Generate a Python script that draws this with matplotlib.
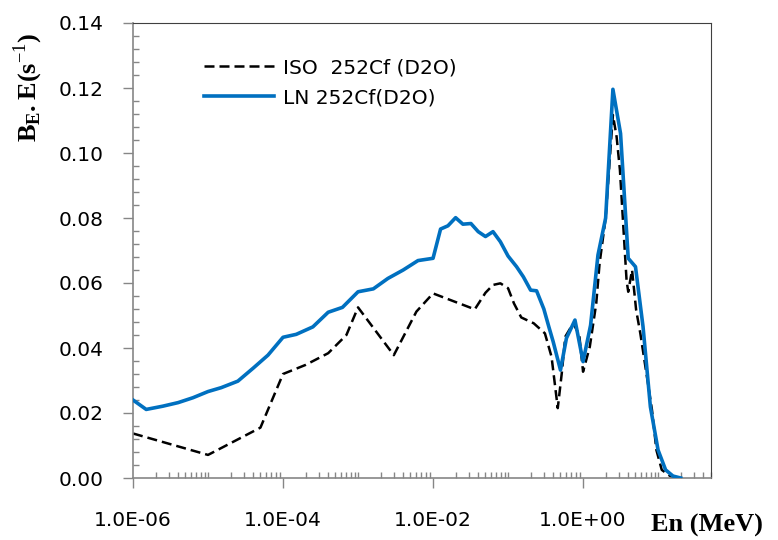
import matplotlib
matplotlib.use("Agg")
import matplotlib.pyplot as plt
import matplotlib.ticker as mticker

# ---------------------------------------------------------------------------
# Data
# ---------------------------------------------------------------------------
energy_iso = [1.0e-6, 1.0e-5, 5.0e-5, 1.0e-4, 2.0e-4, 4.0e-4, 7.0e-4, 1.0e-3,
              3.0e-3, 6.0e-3, 1.0e-2, 3.6e-2, 5.0e-2, 6.3e-2, 7.9e-2, 0.10,
              0.12, 0.15, 0.22, 0.31, 0.38, 0.46, 0.52, 0.58, 0.74, 0.89,
              1.0, 1.23, 1.5, 1.66, 2.0, 2.5, 2.8, 3.1, 3.8, 4.0, 4.5, 5.1,
              5.8, 8.3, 9.5, 11.2, 15.8]
flux_iso = [0.0137, 0.0071, 0.0155, 0.0320, 0.0348, 0.0384, 0.0440, 0.0525,
            0.0378, 0.0512, 0.0568, 0.0519, 0.0570, 0.0594, 0.0599, 0.0584,
            0.0537, 0.0494, 0.0476, 0.0445, 0.0373, 0.0215, 0.0322, 0.0435,
            0.0476, 0.0440, 0.0327, 0.0404, 0.0538, 0.0660, 0.0800, 0.1117,
            0.1050, 0.0948, 0.0609, 0.0573, 0.0640, 0.0517, 0.0445, 0.0209,
            0.0086, 0.0025, 0.0]

energy_ln = [1.0e-6, 1.5e-6, 2.5e-6, 4.0e-6, 6.3e-6, 1.0e-5, 1.5e-5, 2.5e-5,
             4.0e-5, 6.3e-5, 1.0e-4, 1.5e-4, 2.5e-4, 4.0e-4, 6.2e-4, 1.0e-3,
             1.6e-3, 2.5e-3, 4.0e-3, 6.3e-3, 1.0e-2, 1.26e-2, 1.58e-2, 2.0e-2,
             2.5e-2, 3.2e-2, 4.0e-2, 5.0e-2, 6.3e-2, 7.9e-2, 0.10, 0.13, 0.16,
             0.20, 0.24, 0.30, 0.35, 0.40, 0.50, 0.60, 0.78, 1.0, 1.26, 1.58,
             2.0, 2.5, 3.16, 4.0, 5.0, 6.3, 7.9, 10.0, 12.6, 15.8, 20.0]
flux_ln = [0.0240, 0.0211, 0.0221, 0.0232, 0.0247, 0.0266, 0.0278, 0.0298,
           0.0338, 0.0378, 0.0433, 0.0442, 0.0465, 0.0510, 0.0525, 0.0573,
           0.0582, 0.0614, 0.0640, 0.0669, 0.0676, 0.0766, 0.0776, 0.0801,
           0.0781, 0.0783, 0.0758, 0.0743, 0.0758, 0.0727, 0.0683, 0.0650,
           0.0619, 0.0578, 0.0576, 0.0520, 0.0465, 0.0419, 0.0332, 0.0430,
           0.0486, 0.0358, 0.0470, 0.0686, 0.0800, 0.1196, 0.1060, 0.0676,
           0.0650, 0.0466, 0.0219, 0.0086, 0.0025, 0.0006, 0.0]

x_major = [1e-6, 1e-4, 1e-2, 1e0]
label_iso = "ISO  252Cf (D2O)"
label_ln = "LN 252Cf(D2O)"

# ---------------------------------------------------------------------------
# Style
# ---------------------------------------------------------------------------
plt.rcParams["font.family"] = ["DejaVu Sans"]
plt.rcParams["mathtext.fontset"] = "custom"
plt.rcParams["mathtext.rm"] = "Liberation Serif"
plt.rcParams["mathtext.bf"] = "Liberation Serif:bold"

axis_grey = "#868686"

fig = plt.figure(figsize=(7.78, 5.40), dpi=100)
ax = fig.add_axes([133 / 778, 62 / 540, 577.5 / 778, 455 / 540])

ax.plot(energy_iso, flux_iso, color="black", linewidth=1.8,
        linestyle=(0, (4, 2)), label=label_iso, zorder=2)
ax.plot(energy_ln, flux_ln, color="#0070C0", linewidth=2.6,
        label=label_ln, zorder=3)

ax.set_xscale("log")
ax.set_xlim(1e-6, 50)
ax.set_ylim(0, 0.14)

ax.xaxis.set_major_locator(mticker.FixedLocator(x_major))
ax.xaxis.set_major_formatter(mticker.FuncFormatter(lambda v, p: f"{v:.1E}"))
ax.xaxis.set_minor_locator(mticker.LogLocator(base=10, subs=range(1, 10), numticks=50))
ax.xaxis.set_minor_formatter(mticker.NullFormatter())

ax.yaxis.set_major_locator(mticker.MultipleLocator(0.02))
ax.yaxis.set_minor_locator(mticker.MultipleLocator(0.004))
ax.yaxis.set_major_formatter(mticker.FormatStrFormatter("%.2f"))

ax.tick_params(which="major", direction="out", length=7.5, width=1.0,
               color=axis_grey, labelsize=14.5)
ax.tick_params(which="minor", direction="in", length=4.5, width=1.0,
               color=axis_grey)
ax.tick_params(axis="y", which="major", pad=14)
ax.tick_params(axis="x", which="major", pad=16)

for side in ("left", "bottom"):
    ax.spines[side].set_color(axis_grey)
    ax.spines[side].set_linewidth(1.2)
for side in ("top", "right"):
    ax.spines[side].set_color("#404040")
    ax.spines[side].set_linewidth(0.8)

leg = ax.legend(loc="upper left", bbox_to_anchor=(204 / 778, 1 - 58 / 540),
                bbox_transform=fig.transFigure, frameon=False, fontsize=14.5,
                handlelength=3.5, handletextpad=0.4, labelspacing=0.55,
                borderpad=0, borderaxespad=0)

fig.text(707 / 778, 1 - 525 / 540, "En (MeV)", family="Liberation Serif",
         weight="bold", fontsize=19, ha="center", va="center")
fig.text(28 / 778, 1 - 87 / 540,
         r"$\mathbf{B_{E}{.}E(s}^{\mathrm{-1}}\mathbf{)}$",
         fontsize=19, rotation=90, ha="center", va="center")

fig.savefig("out.png", dpi=100)
